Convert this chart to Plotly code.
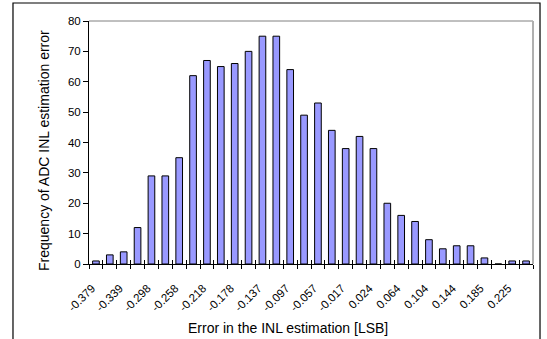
import plotly.graph_objects as go

# Category labels (bin centres in LSB); only every other one is labelled
bin_start = -0.379
bin_step = 0.02015
n_bins = 32
categories = [round(bin_start + i * bin_step, 3) for i in range(n_bins)]
frequency = [1, 3, 4, 12, 29, 29, 35, 62, 67, 65, 66, 70, 75, 75, 64, 49,
             53, 44, 38, 42, 38, 20, 16, 14, 8, 5, 6, 6, 2, 0, 1, 1]
tick_labels = ["-0.379", "-0.339", "-0.298", "-0.258", "-0.218", "-0.178",
               "-0.137", "-0.097", "-0.057", "-0.017", "0.024", "0.064",
               "0.104", "0.144", "0.185", "0.225"]
y_ticks = [0, 10, 20, 30, 40, 50, 60, 70, 80]

idx = list(range(n_bins))
label_pos = idx[::2][:len(tick_labels)]
boundaries = [i - 0.5 for i in range(n_bins + 1)]

FONT = "Liberation Sans, Arial, sans-serif"

fig = go.Figure()
fig.add_trace(go.Bar(
    x=idx, y=frequency, width=0.48,
    marker=dict(color="#9999ff", line=dict(color="#000000", width=1)),
    hovertext=[str(c) for c in categories],
))
# invisible traces to bind overlay axes
fig.add_trace(go.Scatter(x=[0], y=[0], xaxis="x2", mode="markers",
                         marker=dict(opacity=0), showlegend=False, hoverinfo="skip"))
fig.add_trace(go.Scatter(x=[0], y=[0], xaxis="x3", mode="markers",
                         marker=dict(opacity=0), showlegend=False, hoverinfo="skip"))

xr = [-0.5, n_bins - 0.5]
fig.update_layout(
    width=547, height=339,
    margin=dict(l=89, r=14, t=21, b=75),
    paper_bgcolor="white", plot_bgcolor="white",
    showlegend=False,
    font=dict(family=FONT, size=11.5, color="black"),
    xaxis=dict(range=xr, tickmode="array", tickvals=label_pos, ticktext=tick_labels,
               tickangle=-45, ticks="", showgrid=False, zeroline=False,
               showline=True, linecolor="black", linewidth=1,
               ticklabelstandoff=12, ticklabelshift=-4,
               tickfont=dict(size=11.5)),
    xaxis2=dict(range=xr, overlaying="x", tickmode="array", tickvals=boundaries,
                ticks="outside", ticklen=4, tickcolor="black", showticklabels=False,
                showgrid=False, zeroline=False, showline=False),
    xaxis3=dict(range=xr, overlaying="x", tickmode="array", tickvals=boundaries,
                ticks="inside", ticklen=4, tickcolor="black", showticklabels=False,
                showgrid=False, zeroline=False, showline=False),
    yaxis=dict(range=[0, 80], tickmode="array", tickvals=y_ticks, ticks="outside",
               ticklen=5, tickcolor="black", showgrid=False, zeroline=False,
               showline=True, linecolor="black", linewidth=1,
               tickfont=dict(size=11.5)),
    shapes=[
        dict(type="line", xref="paper", yref="paper", x0=0, x1=1, y0=1, y1=1,
             line=dict(color="#808080", width=1), layer="below"),
        dict(type="line", xref="paper", yref="paper", x0=1, x1=1, y0=0, y1=1,
             line=dict(color="#b0b0b0", width=2), layer="below"),
        dict(type="rect", xref="paper", yref="paper", x0=-0.1712, x1=1.0158,
             y0=-0.5, y1=1.074, line=dict(color="black", width=1.2),
             fillcolor="rgba(0,0,0,0)"),
    ],
    annotations=[
        dict(text="Frequency of ADC INL estimation error", xref="paper", yref="paper",
             x=(44 - 89) / 444, y=(264 - 151) / 243, textangle=-90, showarrow=False,
             font=dict(size=14), xanchor="center", yanchor="middle"),
        dict(text="Error in the INL estimation [LSB]", xref="paper", yref="paper",
             x=(287.5 - 89) / 444, y=-(328 - 264) / 243, showarrow=False,
             font=dict(size=14), xanchor="center", yanchor="middle"),
    ],
)

fig.write_html("out.html")
